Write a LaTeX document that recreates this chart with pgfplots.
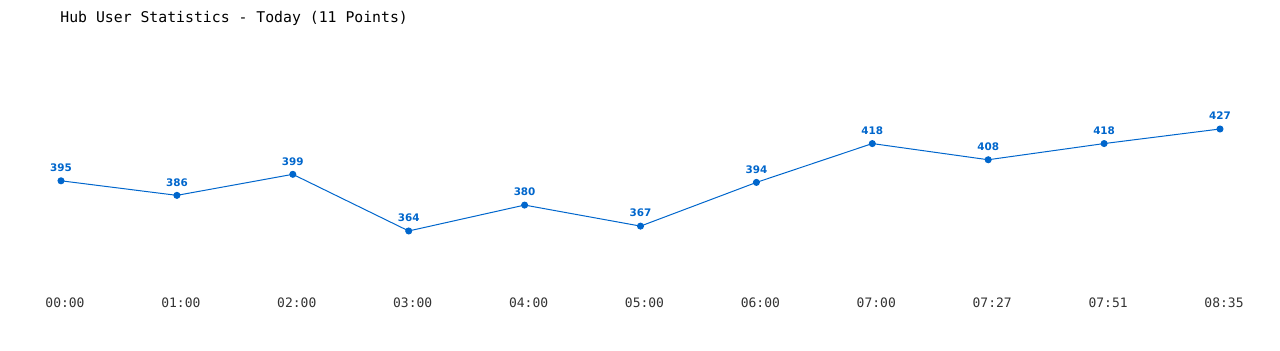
\documentclass[border=0pt]{standalone}
\usepackage{pgfplots}
\pgfplotsset{compat=1.18}
\usepackage{fontspec}
\setmainfont{DejaVu Sans}
\newfontfamily\monofont{DejaVu Sans Mono}
\newfontfamily\labfont{DejaVu Sans}
\definecolor{lineblue}{HTML}{0066CC}
\definecolor{ticktext}{HTML}{333333}
\begin{document}
\begin{tikzpicture}
\path[use as bounding box] (0,0) rectangle (640pt,175pt);
\node[anchor=west, inner sep=0pt, font=\monofont\fontsize{7.4pt}{8pt}\selectfont, text=black] at (30pt,166pt) {Hub User Statistics - Today (11 Points)};
\begin{axis}[
  at={(30.5pt,32pt)}, anchor=south west,
  scale only axis,
  width=579.5pt, height=121.4pt,
  xmin=0, xmax=10, ymin=330, ymax=480,
  axis line style={draw=none},
  tick style={draw=none},
  ytick=\empty,
  xtick={0,1,2,3,4,5,6,7,8,9,10},
  xticklabels={00:00,01:00,02:00,03:00,04:00,05:00,06:00,07:00,07:27,07:51,08:35},
  xticklabel style={anchor=center, yshift=-8.5pt, xshift=2pt, font=\monofont\fontsize{6.5pt}{7pt}\selectfont, text=ticktext},
  /pgf/number format/assume math mode=true,
  clip=false,
  nodes near coords,
  nodes near coords style={font=\labfont\bfseries\fontsize{5.2pt}{6pt}\selectfont, text=lineblue, anchor=center, yshift=6.5pt},
]
\addplot[color=lineblue, line width=0.5pt, mark=*, mark size=1.5pt, mark options={fill=lineblue, draw=lineblue}]
  coordinates {(0,395) (1,386) (2,399) (3,364) (4,380) (5,367) (6,394) (7,418) (8,408) (9,418) (10,427)};
\end{axis}
\end{tikzpicture}
\end{document}
